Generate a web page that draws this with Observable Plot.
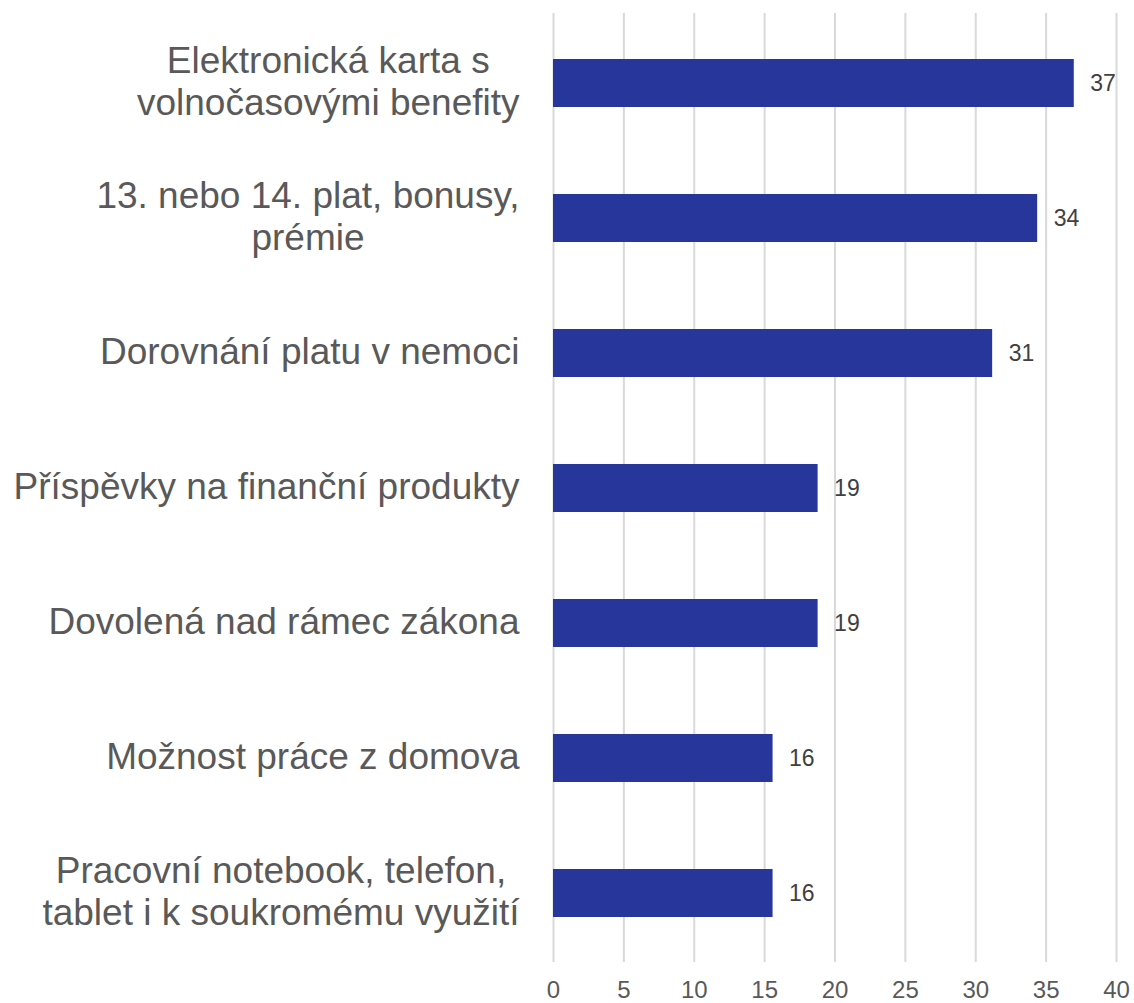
<!DOCTYPE html>
<html>
<head>
<meta charset="utf-8">
<script src="https://cdn.jsdelivr.net/npm/d3@7"></script>
<script src="https://cdn.jsdelivr.net/npm/@observablehq/plot@0.6"></script>
<style>
  html, body { margin: 0; padding: 0; background: #fff; }
  #chart svg { display: block; }
</style>
</head>
<body>
<div id="chart"></div>
<script>
const categories = [
  "Elektronická karta s\nvolnočasovými benefity",
  "13. nebo 14. plat, bonusy,\nprémie",
  "Dorovnání platu v nemoci",
  "Příspěvky na finanční produkty",
  "Dovolená nad rámec zákona",
  "Možnost práce z domova",
  "Pracovní notebook, telefon,\ntablet i k soukromému využití"
];
const values = [37.0, 34.4, 31.2, 18.8, 18.8, 15.6, 15.6];
const xTicks = [0, 5, 10, 15, 20, 25, 30, 35, 40];

const data = categories.map((c, i) => ({category: c, value: values[i]}));

const FONT = "'Liberation Sans', Arial, sans-serif";

const chart = Plot.plot({
  width: 1134,
  height: 1003,
  marginLeft: 553,
  marginRight: 18,
  marginTop: 13,
  marginBottom: 41,
  style: {fontFamily: FONT, background: "#fff"},
  x: {domain: [0, 40], ticks: xTicks, label: null},
  y: {domain: categories, paddingInner: 0.646, paddingOuter: 0.323, label: null},
  marks: [
    Plot.gridX(xTicks, {stroke: "#d9d9d9", strokeOpacity: 1, strokeWidth: 2}),
    Plot.barX(data, {x: "value", y: "category", fill: "#26369a"}),
    Plot.text(data, {
      x: "value", y: "category",
      text: d => String(Math.round(d.value)),
      textAnchor: "start", dx: 16,
      fontSize: 23, fill: "#404040"
    }),
    Plot.axisX(xTicks, {
      tickSize: 0, tickPadding: 18, fontSize: 24, fill: "#595959", label: null
    }),
    Plot.axisY({
      tickSize: 0, tickPadding: 34, fontSize: 37, lineHeight: 1.15, dy: -3,
      fill: "#595959", label: null
    })
  ]
});

document.getElementById("chart").appendChild(chart);

// center-align multi-line category labels within their block (right edge fixed)
chart.querySelectorAll("[aria-label='y-axis tick label'] text").forEach(t => {
  const spans = t.querySelectorAll("tspan");
  if (spans.length < 2) return;
  const widths = Array.from(spans).map(s => s.getComputedTextLength());
  const maxW = Math.max(...widths);
  spans.forEach(s => {
    s.setAttribute("x", -maxW / 2);
    s.setAttribute("text-anchor", "middle");
  });
});
</script>
</body>
</html>
